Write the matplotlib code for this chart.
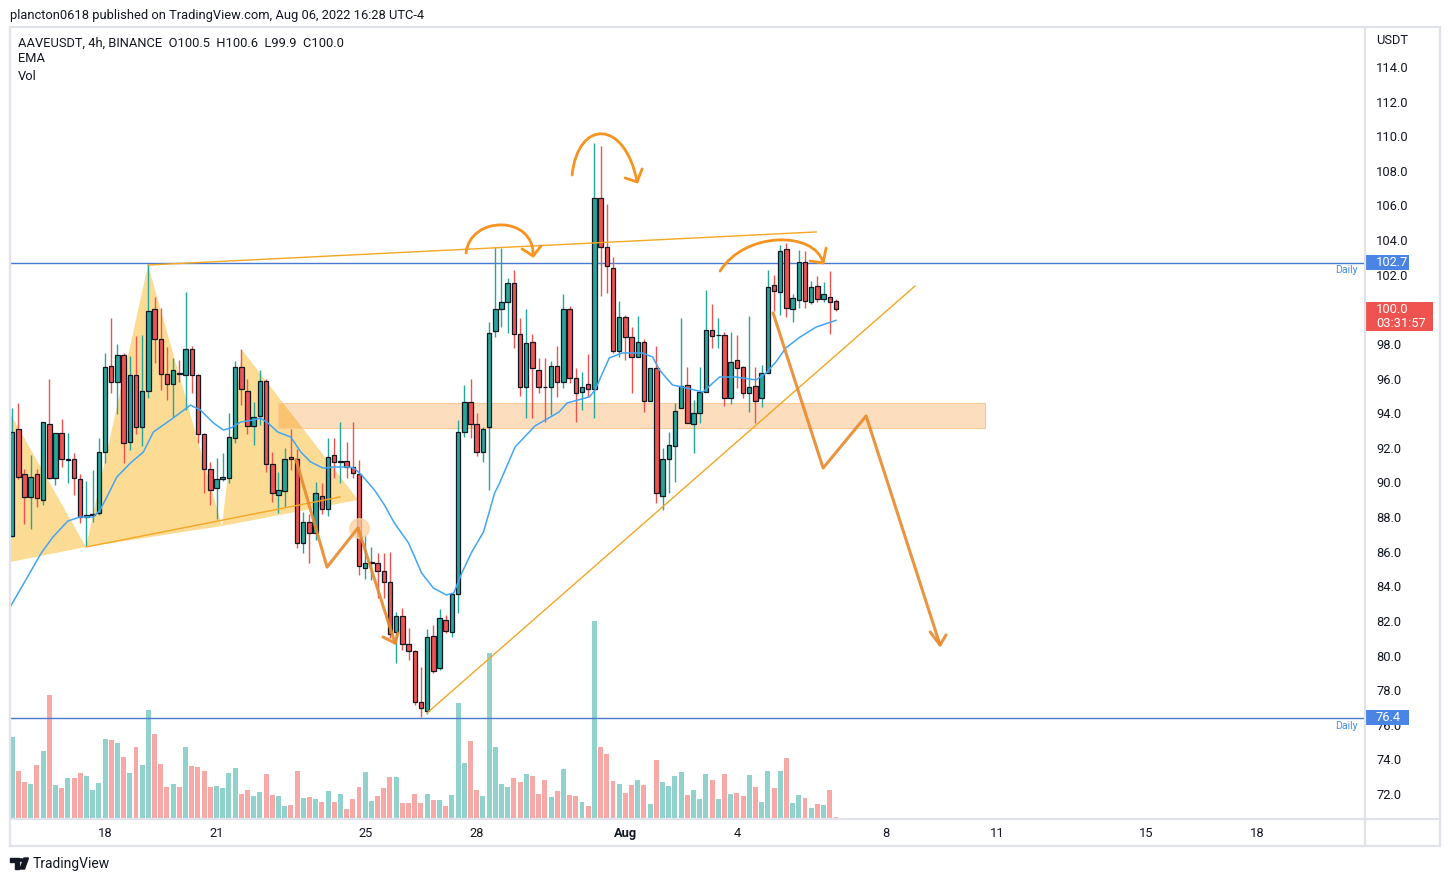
import numpy as np
import pandas as pd
import matplotlib
matplotlib.use('Agg')
import matplotlib.pyplot as plt
from matplotlib.patches import Rectangle, Polygon, PathPatch, Circle
from matplotlib.path import Path
from matplotlib.lines import Line2D
from matplotlib.transforms import blended_transform_factory

plt.rcParams['font.family'] = ['Roboto', 'DejaVu Sans']

# AAVEUSDT 4h candles, first bar 2022-07-15 12:00
first_bar = pd.Timestamp('2022-07-15 12:00')
opens = [86.92, 93.07, 90.47, 89.14, 90.47, 88.98, 93.36, 90.24, 92.84, 91.30,
         91.33, 90.18, 88.00, 88.10, 88.25, 91.74, 96.75, 95.78, 97.38, 92.36,
         96.19, 93.22, 95.26, 100.00, 98.27, 96.25, 95.67, 96.34, 96.19, 97.69,
         96.19, 92.78, 90.76, 89.66, 90.18, 90.24, 92.55, 96.65, 95.26, 93.26,
         93.86, 95.88, 91.07, 89.25, 89.49, 91.45, 91.33, 86.48, 87.73, 87.06,
         89.24, 88.45, 91.59, 91.20, 91.26, 90.91, 90.50, 85.04, 85.33, 85.33,
         84.90, 84.23, 81.34, 82.28, 80.65, 80.26, 77.33, 76.81, 81.15, 79.26,
         82.05, 81.34, 83.54, 92.93, 94.67, 93.36, 91.74, 93.18, 98.77, 100.00,
         100.44, 101.54, 98.55, 95.49, 98.13, 96.49, 95.53, 95.49, 96.74, 95.78,
         99.99, 96.05, 95.24, 95.66, 95.38, 106.41, 103.58, 102.37, 97.59, 99.57,
         98.38, 97.26, 98.13, 94.72, 96.59, 89.23, 91.33, 92.10, 94.28, 95.63,
         93.35, 94.03, 95.24, 98.80, 98.49, 98.50, 94.85, 97.07, 96.64, 95.14,
         95.57, 94.85, 96.34, 101.38, 100.98, 103.46, 99.99, 100.54, 102.75, 100.44,
         101.36, 100.57, 100.73, 100.50]
highs = [94.28, 94.57, 90.80, 91.59, 90.80, 93.50, 95.96, 92.84, 93.65, 92.84,
         91.68, 90.50, 90.10, 90.70, 92.55, 97.46, 99.48, 98.00, 97.46, 97.30,
         98.48, 98.54, 102.60, 100.73, 100.06, 97.84, 97.17, 97.10, 100.98, 97.88,
         96.25, 92.88, 91.20, 91.39, 91.70, 93.99, 97.02, 97.69, 96.00, 94.67,
         96.50, 95.96, 91.78, 90.62, 91.97, 93.07, 91.91, 88.27, 88.20, 90.05,
         89.95, 92.55, 92.55, 93.49, 92.36, 93.51, 91.30, 86.96, 86.29, 85.90,
         85.90, 85.96, 82.53, 82.73, 81.57, 80.30, 79.36, 81.51, 81.76, 82.69,
         82.34, 83.60, 93.61, 95.60, 96.00, 94.00, 93.20, 99.25, 103.58, 103.52,
         101.79, 102.27, 99.48, 100.00, 98.57, 97.17, 97.17, 97.00, 97.88, 100.88,
         100.19, 96.59, 96.36, 97.42, 109.63, 109.44, 106.08, 103.04, 100.48, 99.67,
         99.00, 99.63, 98.27, 96.60, 97.88, 91.97, 92.93, 94.60, 99.48, 96.65,
         94.76, 96.68, 101.11, 100.30, 99.52, 98.69, 98.71, 98.51, 96.72, 99.61,
         96.68, 96.78, 102.27, 101.98, 103.71, 103.81, 100.88, 103.42, 103.39, 101.65,
         101.92, 101.60, 102.23, 100.60]
lows = [86.83, 90.20, 87.60, 87.29, 88.60, 88.70, 90.20, 89.85, 90.90, 89.95,
        89.27, 87.67, 86.30, 87.70, 88.12, 91.10, 95.15, 93.95, 91.10, 91.90,
        92.80, 92.10, 94.86, 96.88, 95.34, 94.76, 93.80, 95.80, 94.19, 95.15,
        92.30, 89.37, 88.70, 87.87, 90.10, 89.95, 92.26, 94.47, 92.80, 92.16,
        93.30, 90.60, 88.89, 88.21, 88.60, 90.72, 86.19, 85.90, 85.33, 86.67,
        88.20, 88.08, 90.24, 89.95, 90.24, 90.24, 84.65, 84.40, 84.36, 83.30,
        83.30, 80.99, 79.59, 80.32, 79.74, 77.14, 76.47, 76.60, 78.97, 79.16,
        81.28, 81.09, 82.48, 92.65, 92.55, 91.50, 91.20, 89.56, 98.42, 99.00,
        98.61, 97.74, 95.00, 93.70, 93.70, 95.18, 93.50, 93.89, 94.95, 95.43,
        95.72, 93.51, 94.18, 94.95, 93.70, 100.77, 100.92, 97.46, 97.26, 97.07,
        95.18, 97.26, 94.09, 94.70, 88.79, 88.40, 89.37, 90.04, 94.28, 93.41,
        91.68, 93.41, 95.24, 97.74, 97.74, 94.41, 94.51, 95.43, 94.85, 94.08,
        93.41, 94.37, 96.34, 99.90, 99.67, 99.53, 99.28, 100.05, 100.05, 100.30,
        100.44, 100.44, 98.57, 99.90]
closes = [92.93, 90.33, 89.14, 90.33, 89.08, 93.47, 90.24, 92.84, 91.33, 91.35,
          90.24, 88.02, 88.10, 88.15, 91.74, 96.65, 95.78, 97.38, 92.26, 96.19,
          93.22, 95.26, 99.91, 98.27, 96.25, 95.67, 96.48, 96.25, 97.69, 96.19,
          92.78, 90.76, 89.56, 90.18, 90.33, 92.65, 96.65, 95.38, 93.26, 93.76,
          95.88, 91.07, 89.37, 89.56, 91.33, 91.33, 86.48, 87.73, 87.06, 89.37,
          88.45, 91.45, 91.16, 91.25, 90.91, 90.56, 85.17, 85.33, 85.42, 84.90,
          84.23, 81.22, 82.28, 80.65, 80.26, 77.33, 76.95, 81.05, 79.13, 82.15,
          81.44, 83.54, 92.93, 94.67, 93.36, 91.74, 93.07, 98.65, 100.02, 100.44,
          101.54, 98.55, 95.53, 98.07, 96.59, 95.49, 95.50, 96.74, 95.78, 99.99,
          96.05, 95.14, 95.53, 95.38, 106.41, 103.58, 102.50, 97.59, 99.57, 98.38,
          97.26, 98.13, 94.72, 96.59, 89.37, 91.33, 92.16, 94.14, 95.57, 93.45,
          94.03, 95.24, 98.80, 98.46, 98.52, 94.85, 96.97, 96.59, 95.14, 95.53,
          94.72, 96.34, 101.27, 101.07, 103.39, 100.05, 100.67, 102.75, 100.50, 101.27,
          100.57, 100.86, 100.44, 100.00]
# volume in thousands
volumes = [81.7, 47.7, 36.7, 34.7, 53.7, 67.7, 123.7, 33.7, 30.7, 40.7,
           40.7, 45.7, 42.7, 28.7, 35.7, 79.7, 78.7, 75.7, 61.7, 45.7,
           71.7, 53.7, 108.7, 84.7, 54.7, 31.7, 34.7, 31.7, 71.7, 52.7,
           51.7, 47.7, 31.7, 32.7, 30.7, 45.7, 50.7, 24.7, 28.7, 22.7,
           26.7, 44.7, 23.7, 22.7, 12.7, 13.7, 47.7, 20.7, 21.7, 19.7,
           16.7, 27.7, 16.7, 24.7, 9.7, 19.7, 31.7, 46.7, 17.7, 22.7,
           30.7, 41.7, 41.7, 15.7, 15.7, 24.7, 15.7, 24.7, 18.7, 19.3,
           13.3, 24.3, 116.3, 56.3, 78.3, 29.3, 23.3, 166.3, 72.3, 35.3,
           32.3, 41.3, 37.3, 45.3, 43.3, 25.3, 39.3, 22.3, 28.3, 50.3,
           24.3, 23.3, 17.3, 13.3, 198.3, 72.3, 65.3, 38.3, 35.3, 26.3,
           34.3, 39.3, 34.3, 15.3, 59.3, 37.3, 33.3, 43.3, 47.3, 24.3,
           29.3, 20.3, 45.3, 39.3, 20.3, 45.3, 25.3, 26.3, 23.3, 44.3,
           32.3, 17.3, 48.3, 31.3, 48.3, 61.3, 16.3, 24.3, 21.3, 11.3,
           15.3, 14.3, 29.3, 2.3]

# EMA line (bar position, value)
ema_x = [-0.4, 2.2, 4.7, 6.6, 9.0, 10.9, 13.1, 14.2, 15.3, 16.9, 19.1, 21.2, 22.8,
         26.0, 28.8, 30.4, 32.5, 34.1, 35.3, 36.9, 39.0, 40.1, 41.3, 42.9, 45.0,
         46.6, 48.2, 50.2, 52.0, 54.2, 55.2, 56.4, 58.5, 60.1, 61.7, 64.0, 66.1,
         68.0, 70.1, 71.3, 72.6, 74.2, 76.1, 77.9, 78.7, 81.2, 84.4, 88.3, 89.6,
         93.2, 94.1, 96.4, 98.5, 101.7, 103.4, 104.5, 106.6, 108.2, 111.5, 114.2,
         116.8, 120.1, 121.7, 123.3, 124.9, 127.2, 129.8, 133.0]
ema_y = [82.75, 84.36, 85.92, 86.85, 87.77, 88.00, 88.00, 88.41, 89.16, 90.31, 91.12,
         91.76, 92.91, 93.72, 94.47, 94.18, 93.43, 93.03, 93.14, 93.49, 93.61, 93.72,
         93.43, 92.91, 92.62, 91.76, 91.18, 90.83, 90.89, 90.89, 90.83, 90.43, 89.56,
         88.70, 87.66, 86.50, 84.77, 83.90, 83.50, 83.61, 84.77, 85.98, 87.14, 89.39,
         89.97, 92.05, 93.26, 94.07, 94.59, 94.94, 95.34, 97.19, 97.48, 97.48, 97.25,
         96.50, 95.63, 95.51, 95.22, 96.09, 96.09, 95.92, 96.32, 96.96, 97.77, 98.40,
         98.98, 99.36]

tick_dates = ['2022-07-18', '2022-07-21', '2022-07-25', '2022-07-28', '2022-08-01',
              '2022-08-04', '2022-08-08', '2022-08-11', '2022-08-15', '2022-08-18']
tick_labels = ['18', '21', '25', '28', 'Aug', '4', '8', '11', '15', '18']
price_ticks = np.arange(72, 115, 2)

daily_levels = [102.7, 76.4]
countdown = '03:31:57'

# drawings (bar position, price)
tri_left = [(-0.34, 94.01), (11.93, 86.27), (-0.34, 85.40)]
tri_head = [(11.93, 86.27), (21.94, 102.56), (33.89, 87.48)]
tri_right = [(33.89, 87.48), (37.12, 97.65), (55.85, 88.99)]
neckline = [(11.93, 86.27), (52.94, 89.16)]
top_line = [(21.94, 102.56), (129.79, 104.47)]
support_line = [(66.98, 76.68), (145.77, 101.35)]
zone = [(42.93, 93.14), (157.07, 94.59)]
path_small = [(45.84, 91.30), (50.84, 85.11), (55.84, 87.37), (61.82, 80.72)]
head_small = [(59.88, 81.07), (61.82, 80.72), (62.30, 81.30)]
path_big = [(122.85, 99.79), (130.92, 90.83), (137.86, 93.84), (149.80, 80.61)]
head_big = [(148.20, 81.36), (149.80, 80.61), (150.77, 81.19)]
circle_pt = (55.95, 87.37)
arcs = [
    [(73.28, 103.25), (73.92, 105.45), (84.42, 105.45), (84.10, 103.08)],
    [(90.40, 107.76), (91.36, 111.00), (98.95, 111.00), (100.89, 107.36)],
    [(114.29, 102.21), (118.32, 104.53), (129.63, 104.53), (130.92, 102.68)],
]
arc_heads = [
    [(82.32, 103.49), (84.10, 103.08), (85.39, 103.66)],
    [(98.95, 107.59), (100.89, 107.36), (101.70, 108.11)],
    [(128.82, 102.79), (130.92, 102.68), (131.40, 103.54)],
]

# ---- figure ----
W, H = 1449, 881
fig = plt.figure(figsize=(W / 100, H / 100), dpi=100)
fig.patch.set_facecolor('white')

def fx(x):
    return x / W

def fy(y):
    return 1 - y / H

rect = [fx(10), fy(819), fx(1365) - fx(10), fy(27) - fy(819)]
axv = fig.add_axes(rect)
ax = fig.add_axes(rect, sharex=axv)
ax.patch.set_alpha(0)

x = np.arange(len(opens))
o = np.array(opens)
h = np.array(highs)
l = np.array(lows)
c = np.array(closes)
up = c >= o
GREEN, RED = '#26a69a', '#ef5350'
col = np.where(up, GREEN, RED)

# volume
axv.bar(x, volumes, width=0.8, color=np.where(up, '#92d2cc', '#f7a9a7'), linewidth=0)
axv.set_ylim(0, 792)
axv.axis('off')

# drawings under candles
for tri in (tri_left, tri_head, tri_right):
    ax.add_patch(Polygon(tri, closed=True, facecolor='#fcdc95', edgecolor='none', zorder=1))
(zx0, zy0), (zx1, zy1) = zone
ax.add_patch(Rectangle((zx0, zy0), zx1 - zx0, zy1 - zy0, facecolor='#f57c00', alpha=0.25,
                       edgecolor='none', zorder=1.5))
ax.add_patch(Rectangle((zx0, zy0), zx1 - zx0, zy1 - zy0, facecolor='none',
                       edgecolor='#f9cb92', linewidth=0.8, zorder=1.6))

# candles
ax.vlines(x, l, h, colors=col, linewidth=1.0, zorder=3)
body_low = np.minimum(o, c)
body_h = np.maximum(np.abs(c - o), 0.03)
ax.bar(x, body_h, bottom=body_low, width=0.72, color=col, edgecolor='#131722',
       linewidth=0.9, zorder=4)

# EMA
ax.plot(ema_x, ema_y, color='#42a5f5', linewidth=1.1, zorder=5)

# daily levels
for lvl in daily_levels:
    ax.axhline(lvl, color='#4a79d0', linewidth=1.0, zorder=2)
    ax.text(0.9948, lvl - 0.45, 'Daily', transform=blended_transform_factory(ax.transAxes, ax.transData),
            ha='right', va='center', color='#4a90e2', fontsize=7.6)

# thin orange lines
for seg in (neckline, top_line, support_line):
    xs, ys = zip(*seg)
    ax.plot(xs, ys, color='#f5a623', linewidth=1.0, zorder=6)

# hand drawn projections
ax.plot(*circle_pt, marker='o', markersize=14, color='#fcd3a4', alpha=0.8, zorder=6)
for pts in (path_small, head_small, path_big, head_big):
    xs, ys = zip(*pts)
    ax.plot(xs, ys, color='#e8892c', linewidth=2.2, alpha=0.9, zorder=7,
            solid_capstyle='round', solid_joinstyle='round')
for arc, hd in zip(arcs, arc_heads):
    p = Path(arc, [Path.MOVETO, Path.CURVE4, Path.CURVE4, Path.CURVE4])
    ax.add_patch(PathPatch(p, facecolor='none', edgecolor='#f7931e', linewidth=2.0,
                           capstyle='round', zorder=7))
    xs, ys = zip(*hd)
    ax.plot(xs, ys, color='#f7931e', linewidth=2.0, zorder=7, solid_capstyle='round')

# axes
ax.set_xlim(-0.34, 218.4)
ax.set_ylim(70.556, 116.31)
for s in ax.spines.values():
    s.set_visible(False)
tick_pos = [(pd.Timestamp(d) - first_bar) / pd.Timedelta(hours=4) for d in tick_dates]
ax.set_xticks(tick_pos)
ax.set_xticklabels(tick_labels)
for lab in ax.get_xticklabels():
    if lab.get_text() == 'Aug':
        lab.set_fontweight('bold')
ax.set_yticks(price_ticks)
ax.set_yticklabels([f'{v:.1f}' for v in price_ticks])
ax.yaxis.tick_right()
ax.tick_params(axis='y', length=0, pad=8, labelsize=9.3, colors='#131722')
ax.tick_params(axis='x', length=0, pad=6, labelsize=9.3, colors='#131722')

# price axis badges
tb = blended_transform_factory(ax.transAxes, ax.transData)
lx = (1376 - 10) / 1355
for lvl in daily_levels:
    ax.add_patch(Rectangle((1.0007, lvl - 0.43), 43 / 1355, 0.87, transform=tb,
                           facecolor='#4a84e4', edgecolor='none', clip_on=False, zorder=10))
    ax.text(lx, lvl, f'{lvl:.1f}', transform=tb, color='white', fontsize=9.3,
            va='center', ha='left', zorder=11, clip_on=False)
last = closes[-1]
ax.add_patch(Rectangle((1.0007, last - 1.25), 67 / 1355, 1.67, transform=tb,
                       facecolor='#ef5350', edgecolor='none', clip_on=False, zorder=10))
ax.text(lx, last, f'{last:.1f}', transform=tb, color='white', fontsize=9.3,
        va='center', ha='left', zorder=11)
ax.text(lx, last - 0.8, countdown, transform=tb, color='white', fontsize=9.3,
        va='center', ha='left', zorder=11)
fig.text(fx(1376), fy(40), 'USDT', fontsize=9.3, color='#131722', va='center')

# frame
fc = '#e0e3eb'
for (xa, ya, xb, yb) in [(10, 27, 1440, 27), (10, 846, 1440, 846), (10, 27, 10, 846),
                         (1440, 27, 1440, 846), (1365, 27, 1365, 846), (10, 819, 1440, 819)]:
    fig.add_artist(Line2D([fx(xa), fx(xb)], [fy(ya), fy(yb)], color=fc, linewidth=1.6))

# header and legend
fig.text(fx(10), fy(15), 'plancton0618 published on TradingView.com, Aug 06, 2022 16:28 UTC-4',
         fontsize=9.3, color='#131722', va='center')
legend = f'AAVEUSDT, 4h, BINANCE  O{opens[-1]:.1f}  H{highs[-1]:.1f}  L{lows[-1]:.1f}  C{closes[-1]:.1f}'
fig.text(fx(18), fy(43), legend, fontsize=9.3, color='#131722', va='center')
fig.text(fx(18), fy(59), 'EMA', fontsize=9.3, color='#131722', va='center')
fig.text(fx(18), fy(76), 'Vol', fontsize=9.3, color='#131722', va='center')

# TradingView logo
fig.add_artist(Polygon([(fx(10), fy(858)), (fx(19), fy(858)), (fx(19), fy(869)),
                        (fx(15), fy(869)), (fx(15), fy(862)), (fx(10), fy(862))],
                       closed=True, transform=fig.transFigure, color='#131722'))
fig.add_artist(Circle((fx(21.3), fy(860)), 1.9 / W, transform=fig.transFigure, color='#131722'))
fig.add_artist(Polygon([(fx(24), fy(858)), (fx(28.5), fy(858)), (fx(24.5), fy(869)),
                        (fx(20), fy(869))], closed=True, transform=fig.transFigure, color='#131722'))
fig.text(fx(33), fy(864), 'TradingView', fontsize=10, color='#131722', va='center')

plt.savefig('out.png', dpi=100)
